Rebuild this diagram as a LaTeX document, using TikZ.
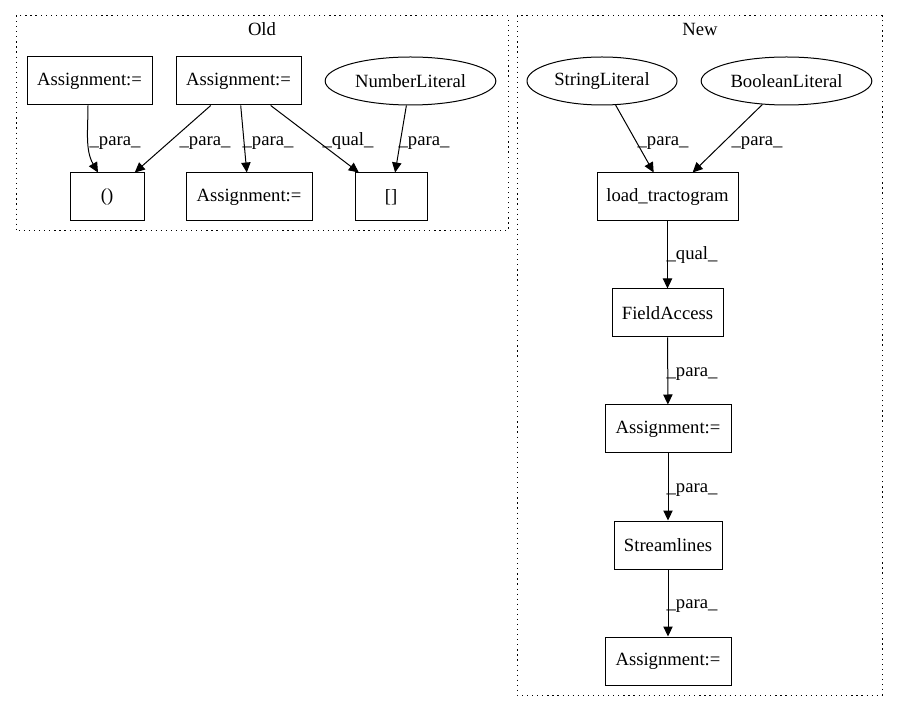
\documentclass[tikz,border=0pt]{standalone}
\usepackage{fontspec}
\setmainfont{Liberation Serif}
\usetikzlibrary{arrows.meta,calc,shapes.geometric}
\begin{document}
\begin{tikzpicture}[x=0.75pt,y=-0.75pt,
  every node/.style={font=\fontsize{14}{16}\selectfont, inner sep=0pt},
  box/.style={draw, line width=0.75pt, rectangle, minimum height=36pt},
  oval/.style={draw, line width=0.75pt, ellipse, minimum height=36pt},
  cluster/.style={draw, line width=0.75pt, dash pattern=on 0.9pt off 2.9pt},
  edge/.style={draw, line width=0.75pt, -{Triangle[length=7.5pt,width=7pt]}},
  lbl/.style={anchor=base}]
\useasboundingbox (0,0) rectangle (899,712);
% clusters
\draw[cluster] (16,16) rectangle (508,231);
\draw[cluster] (517,16) rectangle (882,695);
\node[lbl] (told) at (262,36) {Old};
\node[lbl] (tnew) at (700,36) {New};
% Old nodes
\node[box, minimum width=93.75pt] (a1) at (89.5,81) {Assignment:=};
\node[box, minimum width=93.75pt] (a2) at (238.5,81) {Assignment:=};
\node[oval, minimum width=128pt] (nl) at (410.5,81) {NumberLiteral};
\node[box, minimum width=55.5pt] (par) at (107,197) {()};
\node[box, minimum width=94.5pt] (a3) at (249,197) {Assignment:=};
\node[box, minimum width=54pt] (brk) at (391,197) {[]};
% New nodes
\node[oval, minimum width=112.5pt] (sl) at (602,81) {StringLiteral};
\node[oval, minimum width=128pt] (bl) at (786.5,81) {BooleanLiteral};
\node[box, minimum width=105.75pt] (lt) at (667.5,197) {load\_tractogram};
\node[box, minimum width=83.25pt] (fa) at (667.5,313) {FieldAccess};
\node[box, minimum width=94.5pt] (n1) at (668,429) {Assignment:=};
\node[box, minimum width=81pt] (st) at (668,545) {Streamlines};
\node[box, minimum width=94.5pt] (n2) at (668,661) {Assignment:=};
% Old edges
\draw[edge] (a1.south -| 88,0) .. controls (88,130) and (85,150) .. ($(par.north)+(-9,0)$);
\draw[edge] (a2) -- (par);
\draw[edge] (a2) -- (a3);
\draw[edge] (a2) -- (brk);
\draw[edge] (nl) -- (brk);
\node[lbl] (l1) at (115,146) {\_para\_};
\node[lbl] (l2) at (205,146) {\_para\_};
\node[lbl] (l3) at (268,146) {\_para\_};
\node[lbl] (l4) at (348,146) {\_qual\_};
\node[lbl] (l5) at (424,146) {\_para\_};
% New edges
\draw[edge] (sl) -- (lt);
\draw[edge] (bl) -- (lt);
\draw[edge] (lt) -- (fa);
\draw[edge] (fa) -- (n1);
\draw[edge] (n1) -- (st);
\draw[edge] (st) -- (n2);
\node[lbl] (l6) at (663,146) {\_para\_};
\node[lbl] (l7) at (757,146) {\_para\_};
\node[lbl] (l8) at (692,260) {\_qual\_};
\node[lbl] (l9) at (692,377) {\_para\_};
\node[lbl] (l10) at (692,493) {\_para\_};
\node[lbl] (l11) at (692,608) {\_para\_};
\end{tikzpicture}
\end{document}
